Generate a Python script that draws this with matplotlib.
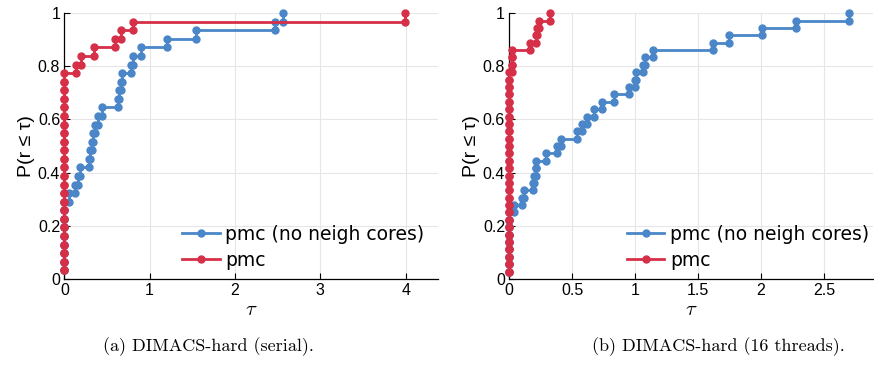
import numpy as np
import matplotlib
matplotlib.use('Agg')
import matplotlib.pyplot as plt

# performance ratios (tau) per instance
serial_noneigh = [0, 0, 0, 0, 0, 0, 0, 0, 0,
                  0.059, 0.13, 0.16, 0.18, 0.286, 0.30, 0.32, 0.34, 0.36, 0.40,
                  0.44, 0.626, 0.645, 0.66, 0.68, 0.778, 0.81, 0.899, 1.204,
                  1.547, 2.474, 2.567]
serial_pmc = [0] * 24 + [0.137, 0.196, 0.352, 0.598, 0.66, 0.805, 3.99]

threads_noneigh = [0, 0, 0, 0, 0, 0, 0, 0, 0,
                   0.037, 0.098, 0.117, 0.191, 0.20, 0.21, 0.215, 0.291, 0.376,
                   0.408, 0.54, 0.575, 0.62, 0.673, 0.739, 0.832, 0.953, 1.0,
                   1.004, 1.065, 1.078, 1.144, 1.616, 1.743, 2.005, 2.277, 2.70]
threads_pmc = [0] * 28 + [0.02, 0.02, 0.02, 0.164, 0.21, 0.22, 0.24, 0.323]

labels = ["pmc (no neigh cores)", "pmc"]
captions = ["(a) DIMACS-hard (serial).", "(b) DIMACS-hard (16 threads)."]
xticks_a = [0, 1, 2, 3, 4]
xticks_b = [0, 0.5, 1, 1.5, 2, 2.5]
yticks = [0, 0.2, 0.4, 0.6, 0.8, 1]

BLUE = "#4a86c8"
RED = "#d62f48"
SANS = ["Liberation Sans", "DejaVu Sans"]


def stairs(r):
    r = np.sort(np.asarray(r, dtype=float))
    n = len(r)
    p = np.arange(1, n + 1) / n
    x = np.repeat(r, 2)[1:]
    y = np.repeat(p, 2)[:-1]
    return x, y


def profile(ax, series, xticks, xmax, leg_x):
    for r, c, lab in zip(series, [BLUE, RED], labels):
        x, y = stairs(r)
        ax.plot(x, y, color=c, lw=2, marker="o", ms=5, label=lab,
                clip_on=False, zorder=3)
    ax.set_xlim(0, xmax)
    ax.set_ylim(0, 1)
    ax.set_xticks(xticks)
    ax.set_xticklabels(["%g" % t for t in xticks], family=SANS, fontsize=11.5)
    ax.set_yticks(yticks)
    ax.set_yticklabels(["%g" % t for t in yticks], family=SANS, fontsize=11.5)
    ax.tick_params(direction="in", length=4, width=0.8, pad=3)
    ax.grid(True, color="#e6e6e6", lw=0.8)
    ax.set_axisbelow(True)
    for s in ["top", "right"]:
        ax.spines[s].set_visible(False)
    for s in ["left", "bottom"]:
        ax.spines[s].set_linewidth(0.9)
    ax.set_ylabel("P(r ≤ τ)", family=SANS, fontsize=14, labelpad=2)
    ax.set_xlabel(r"$\tau$", fontsize=15, labelpad=1)
    ax.legend(loc="lower left", bbox_to_anchor=(leg_x, 0.035), frameon=False,
              fontsize=13.5, handlelength=2.0, handletextpad=0.3,
              labelspacing=0.35, borderpad=0, borderaxespad=0)


plt.rcParams["mathtext.fontset"] = "cm"
fig = plt.figure(figsize=(8.74, 3.67), dpi=100)
ax1 = fig.add_axes([0.0736, 0.240, 0.4276, 0.724])
ax2 = fig.add_axes([0.5827, 0.240, 0.4162, 0.724])

profile(ax1, [serial_noneigh, serial_pmc], xticks_a, 4.38, 0.315)
profile(ax2, [threads_noneigh, threads_pmc], xticks_b, 2.89, 0.323)

fig.text(208 / 874, 1 - 347 / 367, captions[0], family="cmr10", fontsize=13,
         ha="center", va="center")
fig.text(718 / 874, 1 - 347 / 367, captions[1], family="cmr10", fontsize=13,
         ha="center", va="center")

fig.savefig("out.png", dpi=100)
